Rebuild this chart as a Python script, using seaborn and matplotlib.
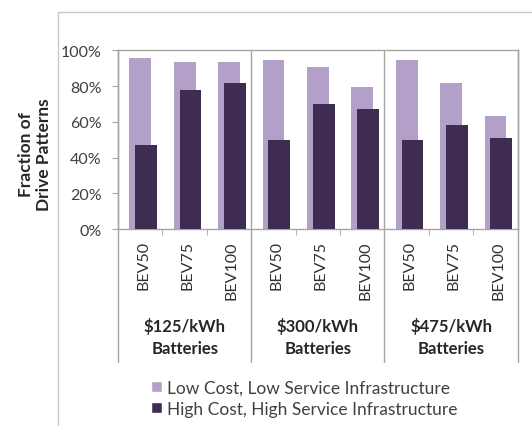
import numpy as np
import seaborn as sns
import matplotlib.pyplot as plt
from matplotlib.patches import Patch
from matplotlib.lines import Line2D
import matplotlib.transforms as mtransforms

#chart data
groups = ["$125/kWh\nBatteries", "$300/kWh\nBatteries", "$475/kWh\nBatteries"]
vehicles = ["BEV50", "BEV75", "BEV100"]
low_service = [95.5, 93.5, 93.5, 94.6, 90.5, 79.7, 94.6, 81.6, 63.0]
high_service = [47.0, 77.8, 81.6, 49.9, 69.8, 66.9, 49.9, 58.3, 51.2]
series_names = ["Low Cost, Low Service Infrastructure", "High Cost, High Service Infrastructure"]

light = "#b3a0c9"
dark = "#3f2d51"
grid_col = "#a6a6a6"

sns.set_style("white")
plt.rcParams['font.family'] = ['Lato', 'DejaVu Sans']

fig = plt.figure(figsize=(5.32, 4.27), dpi=100)
ax = fig.add_axes([0.222, 0.461, 0.751, 0.419])

pos = np.arange(len(low_service))
shift = 0.13

sns.barplot(x=pos, y=low_service, native_scale=True, orient="x", width=0.49,
            color=light, saturation=1, linewidth=0, ax=ax, zorder=2)
sns.barplot(x=pos + shift, y=high_service, native_scale=True, orient="x", width=0.49,
            color=dark, saturation=1, linewidth=0, ax=ax, zorder=3)

ax.set_xlim(-0.5, len(pos) - 0.5)
ax.set_ylim(0, 100)
ax.set_yticks(range(0, 101, 20))
ax.set_yticklabels([f"{v}%" for v in range(0, 101, 20)], fontsize=11.5, color="#404040")
ax.tick_params(axis="y", length=4, color=grid_col, direction="out", pad=8)
ax.yaxis.set_ticks_position("left")

#category labels and tick marks at boundaries
ax.set_xticks(pos + shift / 2)
ax.set_xticklabels(vehicles * len(groups), rotation=90, fontsize=11.5, color="#303030")
ax.tick_params(axis="x", length=0, pad=8)
ax.set_xticks(np.arange(-0.5, len(pos), 1), minor=True)
ax.tick_params(axis="x", which="minor", length=4, color=grid_col, direction="out")
ax.xaxis.set_ticks_position("bottom")
ax.set_xlabel("")

for s in ax.spines.values():
    s.set_color(grid_col)
    s.set_linewidth(1)

#group separators and group labels
trans = mtransforms.blended_transform_factory(ax.transData, ax.transAxes)
for b in [-0.5, 2.5, 5.5, 8.5]:
    ax.add_line(Line2D([b, b], [1, -0.74], transform=trans, color=grid_col,
                       lw=1, clip_on=False))
for i, g in enumerate(groups):
    ax.text(i * 3 + 1, -0.6, g, transform=trans, ha="center", va="center",
            fontsize=12, fontweight="bold", color="#262626", linespacing=1.4)

fig.text(0.066, 0.637, "Fraction of\nDrive Patterns", rotation=90, ha="center",
         va="center", fontsize=12.5, fontweight="bold", color="#262626", linespacing=1.2)

#figure frame lines
fig.add_artist(Line2D([0.109, 0.109], [0, 0.97], transform=fig.transFigure, color="#c8c8c8", lw=1))
fig.add_artist(Line2D([0.109, 1], [0.97, 0.97], transform=fig.transFigure, color="#c8c8c8", lw=1))

handles = [Patch(facecolor=light, label=series_names[0]),
           Patch(facecolor=dark, label=series_names[1])]
fig.legend(handles=handles, loc="center left", bbox_to_anchor=(0.255, 0.065), frameon=False,
           fontsize=12.5, handlelength=0.6, handleheight=0.6, handletextpad=0.3,
           labelspacing=0.3, labelcolor="#404040")

fig.savefig("out.png", dpi=100)
